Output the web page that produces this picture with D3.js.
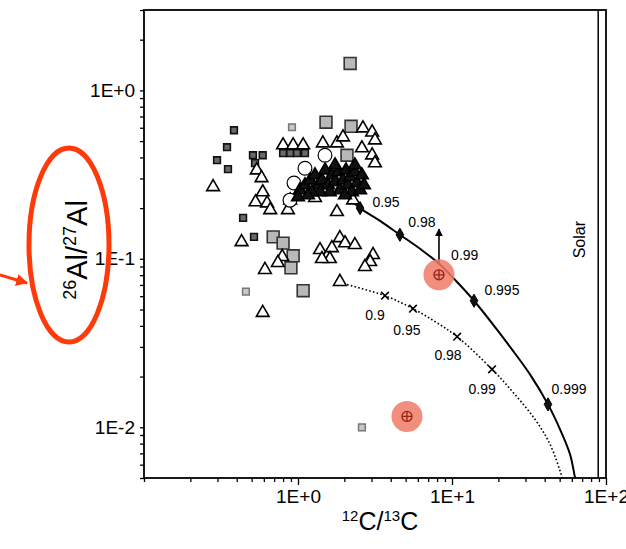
<!DOCTYPE html>
<html>
<head>
<meta charset="utf-8">
<script src="https://cdn.jsdelivr.net/npm/d3@7"></script>
<style>
  body { margin: 0; background: #fff; }
  svg { font-family: "Liberation Sans", Arial, sans-serif; }
</style>
</head>
<body>
<div id="chart"></div>
<script>
// grain data (12C/13C, 26Al/27Al)
let triangles = [
  [0.281,0.267],[2.64,0.596],[3.03,0.564],[3.16,0.506],[1.45,0.486],[1.79,0.486],
  [1.96,0.527],[2.60,0.454],[3.03,0.412],[3.16,0.370],[0.80,0.473],[0.93,0.473],
  [1.08,0.473],[0.54,0.336],[0.58,0.302],[0.59,0.249],[0.53,0.217],[0.63,0.214],
  [0.66,0.195],[0.86,0.195],[0.89,0.223],[1.29,0.230],[1.79,0.190],[2.08,0.246],
  [2.28,0.223],[0.43,0.126],[0.79,0.1028],[0.74,0.0947],[0.61,0.0861],[0.59,0.0479],
  [1.39,0.113],[1.54,0.1028],[1.66,0.116],[1.87,0.133],[2.02,0.124],[2.34,0.121],
  [1.61,0.100],[1.43,0.100],[3.07,0.1056],[2.94,0.0960],[2.72,0.0897],[1.87,0.0731]
];
// the dense black clump
let cluster = [
  [1.03,0.256],[1.11,0.274],[1.20,0.293],[1.29,0.314],[1.35,0.274],[1.43,0.293],
  [1.50,0.336],[1.57,0.274],[1.66,0.314],[1.74,0.286],[1.82,0.327],[1.87,0.256],
  [1.96,0.293],[2.05,0.336],[2.11,0.274],[2.18,0.306],[2.24,0.249],[2.34,0.327],
  [2.42,0.282],[2.53,0.256],[2.60,0.314],[2.68,0.274],[1.61,0.249],[1.39,0.249],
  [1.23,0.249],[2.02,0.239],[2.34,0.360],[1.74,0.360],[1.16,0.239],[1.00,0.233]
];
let graySquares = [
  [2.18,1.445],[1.52,0.647],[2.21,0.612],[2.08,0.412],[0.69,0.135],
  [0.80,0.124],[0.93,0.1042],[0.90,0.0885],[1.08,0.0647]
];
let darkSquares = [
  [0.384,0.580],[0.346,0.460],[0.298,0.385],[0.351,0.341],[0.440,0.175],[0.518,0.135],
  [0.80,0.424],[0.89,0.424],[0.985,0.424],[1.11,0.424],[0.51,0.412],[0.59,0.412],[0.526,0.370]
];
let lightSquares = [[0.914,0.604],[0.459,0.0638],[2.60,0.0100]];
let circles = [[1.497,0.412],[1.11,0.345],[0.942,0.282],[0.887,0.223]];
let highlighted = [[8.23,0.0804],[5.10,0.0116]];
let limitArrow = [[8.23,0.0947],[8.23,0.150]];

// mixing curves
let solidCurve = [
  [2.02,0.239],[2.53,0.200],[3.41,0.168],[4.59,0.139],[6.20,0.1147],[8.11,0.0947],
  [10.6,0.0741],[13.9,0.0564],[19.6,0.0380],[24.5,0.0290],[32.1,0.0206],[42.0,0.01368],
  [50.3,0.00973],[58.4,0.00692],[62.9,0.00506],[64.0,0.0048]
];
let dottedCurve = [
  [1.87,0.0721],[3.67,0.0604],[5.58,0.0506],[7.76,0.0424],[10.8,0.0345],[18.2,0.0221],
  [25.6,0.01567],[34.6,0.01115],[43.3,0.00793],[51.8,0.00506],[52.5,0.0048]
];
let solidMarks = [[2.53,0.200],[4.59,0.139],[13.9,0.0564],[42.0,0.01368]];
let dottedMarks = [[3.67,0.0604],[5.58,0.0506],[10.8,0.0345],[18.2,0.0221]];
let solidLabels = [["0.95",3.73,0.217],["0.98",6.38,0.1656],["0.99",12.1,0.1056],["0.995",21.1,0.0656],["0.999",57.5,0.0168]];
let dottedLabels = [["0.9",3.16,0.0466],["0.95",5.10,0.0380],["0.98",9.42,0.0270],["0.99",15.7,0.0168]];
let solarRatio = 89;

let xDecades = [1, 10, 100];
let xTickLabels = ["1E+0", "1E+1", "1E+2"];
let yDecades = [0.01, 0.1, 1];
let yTickLabels = ["1E-2", "1E-1", "1E+0"];

const width = 626;
const height = 549;
const marginLeft = 144, marginRight = 20, marginTop = 10, marginBottom = 71;

const x = d3.scaleLog([0.1, 100], [marginLeft, width - marginRight]);
const y = d3.scaleLog([0.005, 3], [height - marginBottom, marginTop]);

let svg = d3.select("#chart").append("svg")
  .attr("width", width).attr("height", height)
  .attr("viewBox", [0, 0, width, height]);

svg.append("rect").attr("width", width).attr("height", height).attr("fill", "#fff");

svg.append("clipPath").attr("id", "plotClip")
  .append("rect")
  .attr("x", marginLeft).attr("y", marginTop)
  .attr("width", width - marginLeft - marginRight)
  .attr("height", height - marginTop - marginBottom);

// frame
svg.append("rect")
  .attr("x", marginLeft).attr("y", marginTop)
  .attr("width", width - marginLeft - marginRight)
  .attr("height", height - marginTop - marginBottom)
  .attr("fill", "none").attr("stroke", "#000").attr("stroke-width", 1.8);

// solar line
svg.append("line")
  .attr("x1", x(solarRatio)).attr("x2", x(solarRatio))
  .attr("y1", marginTop).attr("y2", height - marginBottom)
  .attr("stroke", "#000").attr("stroke-width", 1.5);
svg.append("text")
  .attr("transform", `translate(${x(solarRatio) - 13},${y(0.13)}) rotate(-90)`)
  .attr("text-anchor", "middle").attr("font-size", 16).text("Solar");

// axes
let fmtX = d => { let i = xDecades.indexOf(d); return i >= 0 ? xTickLabels[i] : ""; };
let fmtY = d => { let i = yDecades.findIndex(v => Math.abs(v - d) / v < 1e-6); return i >= 0 ? yTickLabels[i] : ""; };

let gx = svg.append("g")
  .attr("transform", `translate(0,${height - marginBottom})`)
  .call(d3.axisBottom(x).tickValues(x.ticks()).tickFormat(fmtX).tickSize(4).tickPadding(8));
gx.select(".domain").remove();
gx.selectAll(".tick line").attr("stroke-width", 1.3)
  .filter(d => xDecades.includes(d)).attr("y2", 7);
gx.selectAll(".tick text").attr("font-size", 19).attr("font-family", "Liberation Sans, Arial, sans-serif").attr("fill", "#000");

let gy = svg.append("g")
  .attr("transform", `translate(${marginLeft},0)`)
  .call(d3.axisLeft(y).tickValues(y.ticks()).tickFormat(fmtY).tickSize(4).tickPadding(5));
gy.select(".domain").remove();
gy.selectAll(".tick line").attr("stroke-width", 1.3);
gy.selectAll(".tick text").attr("font-size", 19).attr("font-family", "Liberation Sans, Arial, sans-serif").attr("fill", "#000");

// axis titles
let xt = svg.append("text").attr("x", 380).attr("y", 530)
  .attr("text-anchor", "middle").attr("font-size", 25);
xt.append("tspan").attr("font-size", 15).attr("dy", -9).text("12");
xt.append("tspan").attr("dy", 9).text("C/");
xt.append("tspan").attr("font-size", 15).attr("dy", -9).text("13");
xt.append("tspan").attr("dy", 9).text("C");

let yt = svg.append("text").attr("transform", "translate(87,250) rotate(-90)")
  .attr("text-anchor", "middle").attr("font-size", 29);
yt.append("tspan").attr("font-size", 18).attr("dy", -11).text("26");
yt.append("tspan").attr("dy", 11).text("Al/");
yt.append("tspan").attr("font-size", 18).attr("dy", -11).text("27");
yt.append("tspan").attr("dy", 11).text("Al");

let plot = svg.append("g").attr("clip-path", "url(#plotClip)");

// mixing curves
let line = d3.line().x(d => x(d[0])).y(d => y(d[1])).curve(d3.curveCatmullRom);
plot.append("path").attr("d", line(solidCurve))
  .attr("fill", "none").attr("stroke", "#000").attr("stroke-width", 2);
plot.append("path").attr("d", line(dottedCurve))
  .attr("fill", "none").attr("stroke", "#000").attr("stroke-width", 1.6)
  .attr("stroke-dasharray", "1.6,2.2");

// points
function drawSymbols(data, type, size, fill, stroke, sw) {
  plot.append("g").selectAll("path").data(data).join("path")
    .attr("transform", d => `translate(${x(d[0])},${y(d[1])})`)
    .attr("d", d3.symbol(type, size))
    .attr("fill", fill).attr("stroke", stroke).attr("stroke-width", sw);
}
drawSymbols(graySquares, d3.symbolSquare, 140, "#b9b9b9", "#333", 1.6);
drawSymbols(lightSquares, d3.symbolSquare, 45, "#c8c8c8", "#777", 1.5);
drawSymbols(darkSquares, d3.symbolSquare, 45, "#6a6a6a", "#111", 1.6);
drawSymbols(triangles, d3.symbolTriangle, 70, "#fff", "#000", 1.6);
drawSymbols(circles, d3.symbolCircle, 150, "#fff", "#000", 1.2);
drawSymbols(cluster, d3.symbolTriangle, 70, "#111", "#000", 1.6);

drawSymbols(solidMarks, d3.symbolDiamond, 50, "#111", "#000", 1);
drawSymbols(dottedMarks, d3.symbolX || d3.symbolCross, 40, "none", "#000", 1.6);

// curve labels
function drawLabels(data) {
  svg.append("g").selectAll("text").data(data).join("text")
    .attr("x", d => x(d[1])).attr("y", d => y(d[2]))
    .attr("dy", "0.35em").attr("text-anchor", "middle")
    .attr("font-size", 14).text(d => d[0]);
}
drawLabels(solidLabels);
drawLabels(dottedLabels);

// upper-limit arrow
svg.append("defs").append("marker").attr("id", "head")
  .attr("viewBox", "0 0 10 10").attr("refX", 9).attr("refY", 5)
  .attr("markerWidth", 5).attr("markerHeight", 5).attr("orient", "auto")
  .append("path").attr("d", "M0,0L10,5L0,10Z").attr("fill", "#000");
svg.append("line")
  .attr("x1", x(limitArrow[0][0])).attr("y1", y(limitArrow[0][1]))
  .attr("x2", x(limitArrow[1][0])).attr("y2", y(limitArrow[1][1]))
  .attr("stroke", "#000").attr("stroke-width", 1.6).attr("marker-end", "url(#head)");

// highlighted grains
let hl = svg.append("g").selectAll("g").data(highlighted).join("g")
  .attr("transform", d => `translate(${x(d[0])},${y(d[1])})`);
hl.append("circle").attr("r", 15.5).attr("fill", "#f07a66").attr("fill-opacity", 0.85);
hl.append("circle").attr("r", 5).attr("fill", "none").attr("stroke", "#9a2412").attr("stroke-width", 1.3);
hl.append("path").attr("d", "M-5,0H5M0,-5V5").attr("stroke", "#9a2412").attr("stroke-width", 1.3);

// red annotation around the y title
svg.append("ellipse").attr("cx", 69).attr("cy", 245).attr("rx", 40).attr("ry", 97)
  .attr("fill", "none").attr("stroke", "#ff3a0a").attr("stroke-width", 5);
svg.append("defs").append("marker").attr("id", "redhead")
  .attr("viewBox", "0 0 10 10").attr("refX", 9).attr("refY", 5)
  .attr("markerWidth", 4).attr("markerHeight", 4).attr("orient", "auto")
  .append("path").attr("d", "M0,0L10,5L0,10Z").attr("fill", "#ff3a0a");
svg.append("line").attr("x1", 0).attr("y1", 275).attr("x2", 27).attr("y2", 283)
  .attr("stroke", "#ff3a0a").attr("stroke-width", 3).attr("marker-end", "url(#redhead)");
</script>
</body>
</html>
